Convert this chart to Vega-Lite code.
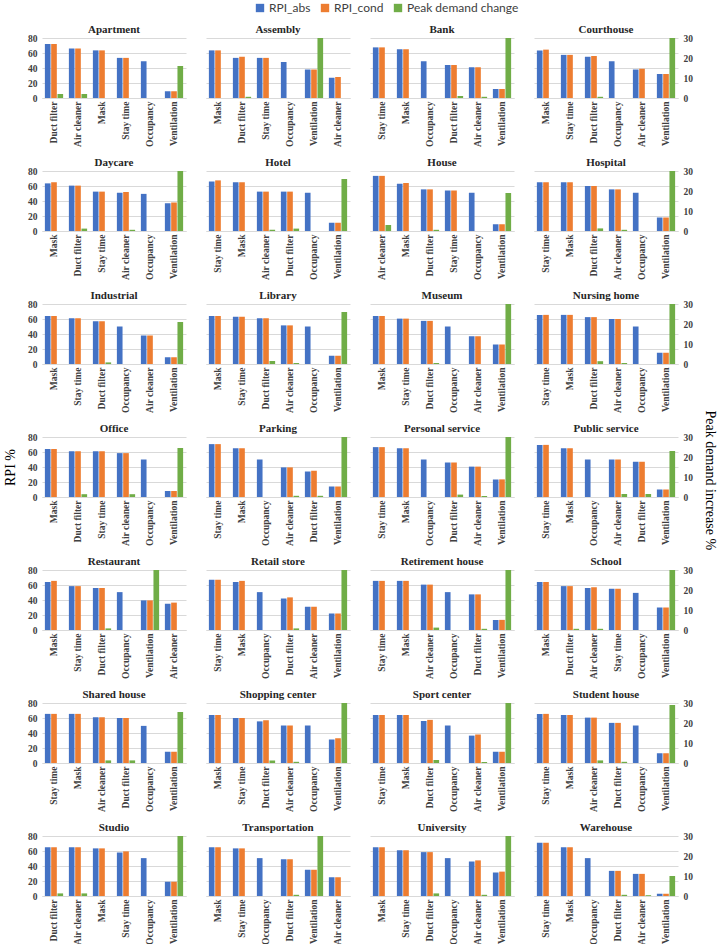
{
"$schema": "https://vega.github.io/schema/vega-lite/v6.json",
"padding": {"left": 3, "top": 2, "right": 2, "bottom": 0},
"background": "white",
"bounds": "flush",
"columns": 4,
"spacing": {"row": 73, "column": 20},
"data": {"values": [
{"b":"Apartment","c":"Duct filter","s":"RPI_abs","v":72},{"b":"Apartment","c":"Duct filter","s":"RPI_cond","v":72},{"b":"Apartment","c":"Duct filter","s":"Peak demand change","v":2},
{"b":"Apartment","c":"Air cleaner","s":"RPI_abs","v":66},{"b":"Apartment","c":"Air cleaner","s":"RPI_cond","v":66},{"b":"Apartment","c":"Air cleaner","s":"Peak demand change","v":2},
{"b":"Apartment","c":"Mask","s":"RPI_abs","v":63.5},{"b":"Apartment","c":"Mask","s":"RPI_cond","v":63.5},
{"b":"Apartment","c":"Stay time","s":"RPI_abs","v":53.5},{"b":"Apartment","c":"Stay time","s":"RPI_cond","v":53.5},
{"b":"Apartment","c":"Occupancy","s":"RPI_abs","v":49},
{"b":"Apartment","c":"Ventilation","s":"RPI_abs","v":9},{"b":"Apartment","c":"Ventilation","s":"RPI_cond","v":9},{"b":"Apartment","c":"Ventilation","s":"Peak demand change","v":16},

{"b":"Assembly","c":"Mask","s":"RPI_abs","v":63.5},{"b":"Assembly","c":"Mask","s":"RPI_cond","v":63.5},
{"b":"Assembly","c":"Duct filter","s":"RPI_abs","v":53.5},{"b":"Assembly","c":"Duct filter","s":"RPI_cond","v":55},{"b":"Assembly","c":"Duct filter","s":"Peak demand change","v":0.6},
{"b":"Assembly","c":"Stay time","s":"RPI_abs","v":53.5},{"b":"Assembly","c":"Stay time","s":"RPI_cond","v":53.5},
{"b":"Assembly","c":"Occupancy","s":"RPI_abs","v":48},
{"b":"Assembly","c":"Ventilation","s":"RPI_abs","v":38},{"b":"Assembly","c":"Ventilation","s":"RPI_cond","v":38},{"b":"Assembly","c":"Ventilation","s":"Peak demand change","v":30},
{"b":"Assembly","c":"Air cleaner","s":"RPI_abs","v":27},{"b":"Assembly","c":"Air cleaner","s":"RPI_cond","v":28},

{"b":"Bank","c":"Stay time","s":"RPI_abs","v":67.5},{"b":"Bank","c":"Stay time","s":"RPI_cond","v":67.5},
{"b":"Bank","c":"Mask","s":"RPI_abs","v":65},{"b":"Bank","c":"Mask","s":"RPI_cond","v":65},
{"b":"Bank","c":"Occupancy","s":"RPI_abs","v":49},
{"b":"Bank","c":"Duct filter","s":"RPI_abs","v":44},{"b":"Bank","c":"Duct filter","s":"RPI_cond","v":44},{"b":"Bank","c":"Duct filter","s":"Peak demand change","v":1},
{"b":"Bank","c":"Air cleaner","s":"RPI_abs","v":41},{"b":"Bank","c":"Air cleaner","s":"RPI_cond","v":41},{"b":"Bank","c":"Air cleaner","s":"Peak demand change","v":0.6},
{"b":"Bank","c":"Ventilation","s":"RPI_abs","v":12},{"b":"Bank","c":"Ventilation","s":"RPI_cond","v":12},{"b":"Bank","c":"Ventilation","s":"Peak demand change","v":30},

{"b":"Courthouse","c":"Mask","s":"RPI_abs","v":63.5},{"b":"Courthouse","c":"Mask","s":"RPI_cond","v":64.5},
{"b":"Courthouse","c":"Stay time","s":"RPI_abs","v":57.5},{"b":"Courthouse","c":"Stay time","s":"RPI_cond","v":57.5},
{"b":"Courthouse","c":"Duct filter","s":"RPI_abs","v":55},{"b":"Courthouse","c":"Duct filter","s":"RPI_cond","v":56},{"b":"Courthouse","c":"Duct filter","s":"Peak demand change","v":0.6},
{"b":"Courthouse","c":"Occupancy","s":"RPI_abs","v":49},
{"b":"Courthouse","c":"Air cleaner","s":"RPI_abs","v":38},{"b":"Courthouse","c":"Air cleaner","s":"RPI_cond","v":39},
{"b":"Courthouse","c":"Ventilation","s":"RPI_abs","v":32},{"b":"Courthouse","c":"Ventilation","s":"RPI_cond","v":32},{"b":"Courthouse","c":"Ventilation","s":"Peak demand change","v":30},

{"b":"Daycare","c":"Mask","s":"RPI_abs","v":63.5},{"b":"Daycare","c":"Mask","s":"RPI_cond","v":65},
{"b":"Daycare","c":"Duct filter","s":"RPI_abs","v":60.5},{"b":"Daycare","c":"Duct filter","s":"RPI_cond","v":60.5},{"b":"Daycare","c":"Duct filter","s":"Peak demand change","v":1.2},
{"b":"Daycare","c":"Stay time","s":"RPI_abs","v":52.5},{"b":"Daycare","c":"Stay time","s":"RPI_cond","v":52.5},
{"b":"Daycare","c":"Air cleaner","s":"RPI_abs","v":51},{"b":"Daycare","c":"Air cleaner","s":"RPI_cond","v":52},{"b":"Daycare","c":"Air cleaner","s":"Peak demand change","v":0.6},
{"b":"Daycare","c":"Occupancy","s":"RPI_abs","v":49.5},
{"b":"Daycare","c":"Ventilation","s":"RPI_abs","v":37},{"b":"Daycare","c":"Ventilation","s":"RPI_cond","v":38},{"b":"Daycare","c":"Ventilation","s":"Peak demand change","v":30},

{"b":"Hotel","c":"Stay time","s":"RPI_abs","v":66},{"b":"Hotel","c":"Stay time","s":"RPI_cond","v":67.5},
{"b":"Hotel","c":"Mask","s":"RPI_abs","v":65},{"b":"Hotel","c":"Mask","s":"RPI_cond","v":65},
{"b":"Hotel","c":"Air cleaner","s":"RPI_abs","v":52.5},{"b":"Hotel","c":"Air cleaner","s":"RPI_cond","v":52.5},{"b":"Hotel","c":"Air cleaner","s":"Peak demand change","v":0.6},
{"b":"Hotel","c":"Duct filter","s":"RPI_abs","v":52.5},{"b":"Hotel","c":"Duct filter","s":"RPI_cond","v":52.5},{"b":"Hotel","c":"Duct filter","s":"Peak demand change","v":1.2},
{"b":"Hotel","c":"Occupancy","s":"RPI_abs","v":51},
{"b":"Hotel","c":"Ventilation","s":"RPI_abs","v":11},{"b":"Hotel","c":"Ventilation","s":"RPI_cond","v":11},{"b":"Hotel","c":"Ventilation","s":"Peak demand change","v":26},

{"b":"House","c":"Air cleaner","s":"RPI_abs","v":73.5},{"b":"House","c":"Air cleaner","s":"RPI_cond","v":73.5},{"b":"House","c":"Air cleaner","s":"Peak demand change","v":3},
{"b":"House","c":"Mask","s":"RPI_abs","v":63},{"b":"House","c":"Mask","s":"RPI_cond","v":64},
{"b":"House","c":"Duct filter","s":"RPI_abs","v":55.5},{"b":"House","c":"Duct filter","s":"RPI_cond","v":55.5},{"b":"House","c":"Duct filter","s":"Peak demand change","v":0.6},
{"b":"House","c":"Stay time","s":"RPI_abs","v":54},{"b":"House","c":"Stay time","s":"RPI_cond","v":54},
{"b":"House","c":"Occupancy","s":"RPI_abs","v":51},
{"b":"House","c":"Ventilation","s":"RPI_abs","v":9},{"b":"House","c":"Ventilation","s":"RPI_cond","v":9},{"b":"House","c":"Ventilation","s":"Peak demand change","v":19},

{"b":"Hospital","c":"Stay time","s":"RPI_abs","v":65},{"b":"Hospital","c":"Stay time","s":"RPI_cond","v":65},
{"b":"Hospital","c":"Mask","s":"RPI_abs","v":65},{"b":"Hospital","c":"Mask","s":"RPI_cond","v":65},
{"b":"Hospital","c":"Duct filter","s":"RPI_abs","v":60},{"b":"Hospital","c":"Duct filter","s":"RPI_cond","v":60},{"b":"Hospital","c":"Duct filter","s":"Peak demand change","v":1.3},
{"b":"Hospital","c":"Air cleaner","s":"RPI_abs","v":55.5},{"b":"Hospital","c":"Air cleaner","s":"RPI_cond","v":55.5},{"b":"Hospital","c":"Air cleaner","s":"Peak demand change","v":0.6},
{"b":"Hospital","c":"Occupancy","s":"RPI_abs","v":51},
{"b":"Hospital","c":"Ventilation","s":"RPI_abs","v":18},{"b":"Hospital","c":"Ventilation","s":"RPI_cond","v":18},{"b":"Hospital","c":"Ventilation","s":"Peak demand change","v":30},

{"b":"Industrial","c":"Mask","s":"RPI_abs","v":64},{"b":"Industrial","c":"Mask","s":"RPI_cond","v":64},
{"b":"Industrial","c":"Stay time","s":"RPI_abs","v":61},{"b":"Industrial","c":"Stay time","s":"RPI_cond","v":61},
{"b":"Industrial","c":"Duct filter","s":"RPI_abs","v":57},{"b":"Industrial","c":"Duct filter","s":"RPI_cond","v":57},{"b":"Industrial","c":"Duct filter","s":"Peak demand change","v":0.8},
{"b":"Industrial","c":"Occupancy","s":"RPI_abs","v":50},
{"b":"Industrial","c":"Air cleaner","s":"RPI_abs","v":38},{"b":"Industrial","c":"Air cleaner","s":"RPI_cond","v":38},
{"b":"Industrial","c":"Ventilation","s":"RPI_abs","v":9},{"b":"Industrial","c":"Ventilation","s":"RPI_cond","v":9},{"b":"Industrial","c":"Ventilation","s":"Peak demand change","v":21},

{"b":"Library","c":"Mask","s":"RPI_abs","v":64},{"b":"Library","c":"Mask","s":"RPI_cond","v":64},
{"b":"Library","c":"Stay time","s":"RPI_abs","v":63},{"b":"Library","c":"Stay time","s":"RPI_cond","v":63},
{"b":"Library","c":"Duct filter","s":"RPI_abs","v":61},{"b":"Library","c":"Duct filter","s":"RPI_cond","v":61},{"b":"Library","c":"Duct filter","s":"Peak demand change","v":1.5},
{"b":"Library","c":"Air cleaner","s":"RPI_abs","v":51.5},{"b":"Library","c":"Air cleaner","s":"RPI_cond","v":51.5},{"b":"Library","c":"Air cleaner","s":"Peak demand change","v":0.5},
{"b":"Library","c":"Occupancy","s":"RPI_abs","v":50},
{"b":"Library","c":"Ventilation","s":"RPI_abs","v":11},{"b":"Library","c":"Ventilation","s":"RPI_cond","v":11},{"b":"Library","c":"Ventilation","s":"Peak demand change","v":26},

{"b":"Museum","c":"Mask","s":"RPI_abs","v":64},{"b":"Museum","c":"Mask","s":"RPI_cond","v":64},
{"b":"Museum","c":"Stay time","s":"RPI_abs","v":60.5},{"b":"Museum","c":"Stay time","s":"RPI_cond","v":60.5},
{"b":"Museum","c":"Duct filter","s":"RPI_abs","v":57.5},{"b":"Museum","c":"Duct filter","s":"RPI_cond","v":57.5},{"b":"Museum","c":"Duct filter","s":"Peak demand change","v":0.5},
{"b":"Museum","c":"Occupancy","s":"RPI_abs","v":50},
{"b":"Museum","c":"Air cleaner","s":"RPI_abs","v":37},{"b":"Museum","c":"Air cleaner","s":"RPI_cond","v":37},
{"b":"Museum","c":"Ventilation","s":"RPI_abs","v":26},{"b":"Museum","c":"Ventilation","s":"RPI_cond","v":26},{"b":"Museum","c":"Ventilation","s":"Peak demand change","v":30},

{"b":"Nursing home","c":"Stay time","s":"RPI_abs","v":65.5},{"b":"Nursing home","c":"Stay time","s":"RPI_cond","v":65.5},
{"b":"Nursing home","c":"Mask","s":"RPI_abs","v":65.5},{"b":"Nursing home","c":"Mask","s":"RPI_cond","v":65.5},
{"b":"Nursing home","c":"Duct filter","s":"RPI_abs","v":62.5},{"b":"Nursing home","c":"Duct filter","s":"RPI_cond","v":62.5},{"b":"Nursing home","c":"Duct filter","s":"Peak demand change","v":1.4},
{"b":"Nursing home","c":"Air cleaner","s":"RPI_abs","v":60},{"b":"Nursing home","c":"Air cleaner","s":"RPI_cond","v":60},{"b":"Nursing home","c":"Air cleaner","s":"Peak demand change","v":0.5},
{"b":"Nursing home","c":"Occupancy","s":"RPI_abs","v":50},
{"b":"Nursing home","c":"Ventilation","s":"RPI_abs","v":15},{"b":"Nursing home","c":"Ventilation","s":"RPI_cond","v":15},{"b":"Nursing home","c":"Ventilation","s":"Peak demand change","v":30},

{"b":"Office","c":"Mask","s":"RPI_abs","v":64},{"b":"Office","c":"Mask","s":"RPI_cond","v":64},
{"b":"Office","c":"Duct filter","s":"RPI_abs","v":61},{"b":"Office","c":"Duct filter","s":"RPI_cond","v":61},{"b":"Office","c":"Duct filter","s":"Peak demand change","v":1.4},
{"b":"Office","c":"Stay time","s":"RPI_abs","v":61},{"b":"Office","c":"Stay time","s":"RPI_cond","v":61},
{"b":"Office","c":"Air cleaner","s":"RPI_abs","v":58.5},{"b":"Office","c":"Air cleaner","s":"RPI_cond","v":58.5},{"b":"Office","c":"Air cleaner","s":"Peak demand change","v":1.4},
{"b":"Office","c":"Occupancy","s":"RPI_abs","v":50},
{"b":"Office","c":"Ventilation","s":"RPI_abs","v":8},{"b":"Office","c":"Ventilation","s":"RPI_cond","v":8},{"b":"Office","c":"Ventilation","s":"Peak demand change","v":24.5},

{"b":"Parking","c":"Stay time","s":"RPI_abs","v":70.5},{"b":"Parking","c":"Stay time","s":"RPI_cond","v":70.5},
{"b":"Parking","c":"Mask","s":"RPI_abs","v":65},{"b":"Parking","c":"Mask","s":"RPI_cond","v":65},
{"b":"Parking","c":"Occupancy","s":"RPI_abs","v":50},
{"b":"Parking","c":"Air cleaner","s":"RPI_abs","v":39.5},{"b":"Parking","c":"Air cleaner","s":"RPI_cond","v":39.5},{"b":"Parking","c":"Air cleaner","s":"Peak demand change","v":0.6},
{"b":"Parking","c":"Duct filter","s":"RPI_abs","v":34},{"b":"Parking","c":"Duct filter","s":"RPI_cond","v":35},{"b":"Parking","c":"Duct filter","s":"Peak demand change","v":0.6},
{"b":"Parking","c":"Ventilation","s":"RPI_abs","v":14},{"b":"Parking","c":"Ventilation","s":"RPI_cond","v":14},{"b":"Parking","c":"Ventilation","s":"Peak demand change","v":30},

{"b":"Personal service","c":"Stay time","s":"RPI_abs","v":66.5},{"b":"Personal service","c":"Stay time","s":"RPI_cond","v":66.5},
{"b":"Personal service","c":"Mask","s":"RPI_abs","v":65},{"b":"Personal service","c":"Mask","s":"RPI_cond","v":65},
{"b":"Personal service","c":"Occupancy","s":"RPI_abs","v":50},
{"b":"Personal service","c":"Duct filter","s":"RPI_abs","v":46},{"b":"Personal service","c":"Duct filter","s":"RPI_cond","v":46},{"b":"Personal service","c":"Duct filter","s":"Peak demand change","v":1.2},
{"b":"Personal service","c":"Air cleaner","s":"RPI_abs","v":40.5},{"b":"Personal service","c":"Air cleaner","s":"RPI_cond","v":40.5},{"b":"Personal service","c":"Air cleaner","s":"Peak demand change","v":0.5},
{"b":"Personal service","c":"Ventilation","s":"RPI_abs","v":23.5},{"b":"Personal service","c":"Ventilation","s":"RPI_cond","v":23.5},{"b":"Personal service","c":"Ventilation","s":"Peak demand change","v":30},

{"b":"Public service","c":"Stay time","s":"RPI_abs","v":69.5},{"b":"Public service","c":"Stay time","s":"RPI_cond","v":69.5},
{"b":"Public service","c":"Mask","s":"RPI_abs","v":65},{"b":"Public service","c":"Mask","s":"RPI_cond","v":65},
{"b":"Public service","c":"Occupancy","s":"RPI_abs","v":50},
{"b":"Public service","c":"Air cleaner","s":"RPI_abs","v":50},{"b":"Public service","c":"Air cleaner","s":"RPI_cond","v":50},{"b":"Public service","c":"Air cleaner","s":"Peak demand change","v":1.5},
{"b":"Public service","c":"Duct filter","s":"RPI_abs","v":47},{"b":"Public service","c":"Duct filter","s":"RPI_cond","v":47},{"b":"Public service","c":"Duct filter","s":"Peak demand change","v":1.5},
{"b":"Public service","c":"Ventilation","s":"RPI_abs","v":10},{"b":"Public service","c":"Ventilation","s":"RPI_cond","v":10},{"b":"Public service","c":"Ventilation","s":"Peak demand change","v":23},

{"b":"Restaurant","c":"Mask","s":"RPI_abs","v":64},{"b":"Restaurant","c":"Mask","s":"RPI_cond","v":65.5},
{"b":"Restaurant","c":"Stay time","s":"RPI_abs","v":58.5},{"b":"Restaurant","c":"Stay time","s":"RPI_cond","v":58.5},
{"b":"Restaurant","c":"Duct filter","s":"RPI_abs","v":56},{"b":"Restaurant","c":"Duct filter","s":"RPI_cond","v":56},{"b":"Restaurant","c":"Duct filter","s":"Peak demand change","v":0.8},
{"b":"Restaurant","c":"Occupancy","s":"RPI_abs","v":50.5},
{"b":"Restaurant","c":"Ventilation","s":"RPI_abs","v":39.5},{"b":"Restaurant","c":"Ventilation","s":"RPI_cond","v":39.5},{"b":"Restaurant","c":"Ventilation","s":"Peak demand change","v":30},
{"b":"Restaurant","c":"Air cleaner","s":"RPI_abs","v":35},{"b":"Restaurant","c":"Air cleaner","s":"RPI_cond","v":36.5},

{"b":"Retail store","c":"Stay time","s":"RPI_abs","v":67},{"b":"Retail store","c":"Stay time","s":"RPI_cond","v":67},
{"b":"Retail store","c":"Mask","s":"RPI_abs","v":64},{"b":"Retail store","c":"Mask","s":"RPI_cond","v":65.5},
{"b":"Retail store","c":"Occupancy","s":"RPI_abs","v":50.5},
{"b":"Retail store","c":"Duct filter","s":"RPI_abs","v":42},{"b":"Retail store","c":"Duct filter","s":"RPI_cond","v":43.5},{"b":"Retail store","c":"Duct filter","s":"Peak demand change","v":0.8},
{"b":"Retail store","c":"Air cleaner","s":"RPI_abs","v":31},{"b":"Retail store","c":"Air cleaner","s":"RPI_cond","v":31},
{"b":"Retail store","c":"Ventilation","s":"RPI_abs","v":22},{"b":"Retail store","c":"Ventilation","s":"RPI_cond","v":22},{"b":"Retail store","c":"Ventilation","s":"Peak demand change","v":30},

{"b":"Retirement house","c":"Stay time","s":"RPI_abs","v":65.5},{"b":"Retirement house","c":"Stay time","s":"RPI_cond","v":65.5},
{"b":"Retirement house","c":"Mask","s":"RPI_abs","v":65.5},{"b":"Retirement house","c":"Mask","s":"RPI_cond","v":65.5},
{"b":"Retirement house","c":"Air cleaner","s":"RPI_abs","v":60.5},{"b":"Retirement house","c":"Air cleaner","s":"RPI_cond","v":60.5},{"b":"Retirement house","c":"Air cleaner","s":"Peak demand change","v":1.2},
{"b":"Retirement house","c":"Occupancy","s":"RPI_abs","v":50.5},
{"b":"Retirement house","c":"Duct filter","s":"RPI_abs","v":47.5},{"b":"Retirement house","c":"Duct filter","s":"RPI_cond","v":47.5},{"b":"Retirement house","c":"Duct filter","s":"Peak demand change","v":0.6},
{"b":"Retirement house","c":"Ventilation","s":"RPI_abs","v":13.5},{"b":"Retirement house","c":"Ventilation","s":"RPI_cond","v":13.5},{"b":"Retirement house","c":"Ventilation","s":"Peak demand change","v":30},

{"b":"School","c":"Mask","s":"RPI_abs","v":64},{"b":"School","c":"Mask","s":"RPI_cond","v":64},
{"b":"School","c":"Duct filter","s":"RPI_abs","v":58.5},{"b":"School","c":"Duct filter","s":"RPI_cond","v":58.5},{"b":"School","c":"Duct filter","s":"Peak demand change","v":0.6},
{"b":"School","c":"Air cleaner","s":"RPI_abs","v":56},{"b":"School","c":"Air cleaner","s":"RPI_cond","v":57},{"b":"School","c":"Air cleaner","s":"Peak demand change","v":0.6},
{"b":"School","c":"Stay time","s":"RPI_abs","v":55},{"b":"School","c":"Stay time","s":"RPI_cond","v":55},
{"b":"School","c":"Occupancy","s":"RPI_abs","v":49.5},
{"b":"School","c":"Ventilation","s":"RPI_abs","v":30},{"b":"School","c":"Ventilation","s":"RPI_cond","v":30},{"b":"School","c":"Ventilation","s":"Peak demand change","v":30},

{"b":"Shared house","c":"Stay time","s":"RPI_abs","v":65.5},{"b":"Shared house","c":"Stay time","s":"RPI_cond","v":65.5},
{"b":"Shared house","c":"Mask","s":"RPI_abs","v":65.5},{"b":"Shared house","c":"Mask","s":"RPI_cond","v":65.5},
{"b":"Shared house","c":"Air cleaner","s":"RPI_abs","v":61},{"b":"Shared house","c":"Air cleaner","s":"RPI_cond","v":61},{"b":"Shared house","c":"Air cleaner","s":"Peak demand change","v":1.3},
{"b":"Shared house","c":"Duct filter","s":"RPI_abs","v":60},{"b":"Shared house","c":"Duct filter","s":"RPI_cond","v":60},{"b":"Shared house","c":"Duct filter","s":"Peak demand change","v":1.3},
{"b":"Shared house","c":"Occupancy","s":"RPI_abs","v":49.5},
{"b":"Shared house","c":"Ventilation","s":"RPI_abs","v":15},{"b":"Shared house","c":"Ventilation","s":"RPI_cond","v":15},{"b":"Shared house","c":"Ventilation","s":"Peak demand change","v":25.5},

{"b":"Shopping center","c":"Mask","s":"RPI_abs","v":64},{"b":"Shopping center","c":"Mask","s":"RPI_cond","v":64},
{"b":"Shopping center","c":"Stay time","s":"RPI_abs","v":60},{"b":"Shopping center","c":"Stay time","s":"RPI_cond","v":60},
{"b":"Shopping center","c":"Duct filter","s":"RPI_abs","v":55.5},{"b":"Shopping center","c":"Duct filter","s":"RPI_cond","v":57},{"b":"Shopping center","c":"Duct filter","s":"Peak demand change","v":1.3},
{"b":"Shopping center","c":"Air cleaner","s":"RPI_abs","v":50},{"b":"Shopping center","c":"Air cleaner","s":"RPI_cond","v":50},{"b":"Shopping center","c":"Air cleaner","s":"Peak demand change","v":0.6},
{"b":"Shopping center","c":"Occupancy","s":"RPI_abs","v":50},
{"b":"Shopping center","c":"Ventilation","s":"RPI_abs","v":31.5},{"b":"Shopping center","c":"Ventilation","s":"RPI_cond","v":33},{"b":"Shopping center","c":"Ventilation","s":"Peak demand change","v":30},

{"b":"Sport center","c":"Stay time","s":"RPI_abs","v":64},{"b":"Sport center","c":"Stay time","s":"RPI_cond","v":64},
{"b":"Sport center","c":"Mask","s":"RPI_abs","v":64},{"b":"Sport center","c":"Mask","s":"RPI_cond","v":64},
{"b":"Sport center","c":"Duct filter","s":"RPI_abs","v":56},{"b":"Sport center","c":"Duct filter","s":"RPI_cond","v":57.5},{"b":"Sport center","c":"Duct filter","s":"Peak demand change","v":1.5},
{"b":"Sport center","c":"Occupancy","s":"RPI_abs","v":50},
{"b":"Sport center","c":"Air cleaner","s":"RPI_abs","v":36.5},{"b":"Sport center","c":"Air cleaner","s":"RPI_cond","v":38},{"b":"Sport center","c":"Air cleaner","s":"Peak demand change","v":0.5},
{"b":"Sport center","c":"Ventilation","s":"RPI_abs","v":15},{"b":"Sport center","c":"Ventilation","s":"RPI_cond","v":15},{"b":"Sport center","c":"Ventilation","s":"Peak demand change","v":30},

{"b":"Student house","c":"Stay time","s":"RPI_abs","v":65.5},{"b":"Student house","c":"Stay time","s":"RPI_cond","v":65.5},
{"b":"Student house","c":"Mask","s":"RPI_abs","v":64},{"b":"Student house","c":"Mask","s":"RPI_cond","v":64},
{"b":"Student house","c":"Air cleaner","s":"RPI_abs","v":60.5},{"b":"Student house","c":"Air cleaner","s":"RPI_cond","v":60.5},{"b":"Student house","c":"Air cleaner","s":"Peak demand change","v":1.3},
{"b":"Student house","c":"Duct filter","s":"RPI_abs","v":53.5},{"b":"Student house","c":"Duct filter","s":"RPI_cond","v":53.5},{"b":"Student house","c":"Duct filter","s":"Peak demand change","v":0.6},
{"b":"Student house","c":"Occupancy","s":"RPI_abs","v":50},
{"b":"Student house","c":"Ventilation","s":"RPI_abs","v":13},{"b":"Student house","c":"Ventilation","s":"RPI_cond","v":13},{"b":"Student house","c":"Ventilation","s":"Peak demand change","v":29},

{"b":"Studio","c":"Duct filter","s":"RPI_abs","v":65},{"b":"Studio","c":"Duct filter","s":"RPI_cond","v":65},{"b":"Studio","c":"Duct filter","s":"Peak demand change","v":1.3},
{"b":"Studio","c":"Air cleaner","s":"RPI_abs","v":65},{"b":"Studio","c":"Air cleaner","s":"RPI_cond","v":65},{"b":"Studio","c":"Air cleaner","s":"Peak demand change","v":1.3},
{"b":"Studio","c":"Mask","s":"RPI_abs","v":63.5},{"b":"Studio","c":"Mask","s":"RPI_cond","v":63.5},
{"b":"Studio","c":"Stay time","s":"RPI_abs","v":58},{"b":"Studio","c":"Stay time","s":"RPI_cond","v":59.5},
{"b":"Studio","c":"Occupancy","s":"RPI_abs","v":50.5},
{"b":"Studio","c":"Ventilation","s":"RPI_abs","v":19},{"b":"Studio","c":"Ventilation","s":"RPI_cond","v":19},{"b":"Studio","c":"Ventilation","s":"Peak demand change","v":30},

{"b":"Transportation","c":"Mask","s":"RPI_abs","v":65},{"b":"Transportation","c":"Mask","s":"RPI_cond","v":65},
{"b":"Transportation","c":"Stay time","s":"RPI_abs","v":63.5},{"b":"Transportation","c":"Stay time","s":"RPI_cond","v":63.5},
{"b":"Transportation","c":"Occupancy","s":"RPI_abs","v":50.5},
{"b":"Transportation","c":"Duct filter","s":"RPI_abs","v":49},{"b":"Transportation","c":"Duct filter","s":"RPI_cond","v":49},{"b":"Transportation","c":"Duct filter","s":"Peak demand change","v":0.6},
{"b":"Transportation","c":"Ventilation","s":"RPI_abs","v":35},{"b":"Transportation","c":"Ventilation","s":"RPI_cond","v":35},{"b":"Transportation","c":"Ventilation","s":"Peak demand change","v":30},
{"b":"Transportation","c":"Air cleaner","s":"RPI_abs","v":25},{"b":"Transportation","c":"Air cleaner","s":"RPI_cond","v":25},

{"b":"University","c":"Mask","s":"RPI_abs","v":65},{"b":"University","c":"Mask","s":"RPI_cond","v":65},
{"b":"University","c":"Stay time","s":"RPI_abs","v":61},{"b":"University","c":"Stay time","s":"RPI_cond","v":61},
{"b":"University","c":"Duct filter","s":"RPI_abs","v":58.5},{"b":"University","c":"Duct filter","s":"RPI_cond","v":58.5},{"b":"University","c":"Duct filter","s":"Peak demand change","v":1.3},
{"b":"University","c":"Occupancy","s":"RPI_abs","v":50.5},
{"b":"University","c":"Air cleaner","s":"RPI_abs","v":46},{"b":"University","c":"Air cleaner","s":"RPI_cond","v":47.5},{"b":"University","c":"Air cleaner","s":"Peak demand change","v":0.6},
{"b":"University","c":"Ventilation","s":"RPI_abs","v":31.5},{"b":"University","c":"Ventilation","s":"RPI_cond","v":32.5},{"b":"University","c":"Ventilation","s":"Peak demand change","v":30},

{"b":"Warehouse","c":"Stay time","s":"RPI_abs","v":71},{"b":"Warehouse","c":"Stay time","s":"RPI_cond","v":71},
{"b":"Warehouse","c":"Mask","s":"RPI_abs","v":65},{"b":"Warehouse","c":"Mask","s":"RPI_cond","v":65},
{"b":"Warehouse","c":"Occupancy","s":"RPI_abs","v":50.5},
{"b":"Warehouse","c":"Duct filter","s":"RPI_abs","v":33.5},{"b":"Warehouse","c":"Duct filter","s":"RPI_cond","v":33.5},{"b":"Warehouse","c":"Duct filter","s":"Peak demand change","v":0.6},
{"b":"Warehouse","c":"Air cleaner","s":"RPI_abs","v":29.5},{"b":"Warehouse","c":"Air cleaner","s":"RPI_cond","v":29.5},{"b":"Warehouse","c":"Air cleaner","s":"Peak demand change","v":0.4},
{"b":"Warehouse","c":"Ventilation","s":"RPI_abs","v":3},{"b":"Warehouse","c":"Ventilation","s":"RPI_cond","v":3},{"b":"Warehouse","c":"Ventilation","s":"Peak demand change","v":10}
]},
"concat": [
{"title":{"text":"Apartment","offset":-2},"width":144,"height":60,"transform":[{"filter":{"field":"b","equal":"Apartment"}}],
 "encoding":{"x":{"field":"c","type":"nominal","title":null,"scale":{"domain":["Duct filter","Air cleaner","Mask","Stay time","Occupancy","Ventilation"],"paddingInner":0.24,"paddingOuter":0.12}},"xOffset":{"field":"s","type":"nominal","scale":{"domain":["RPI_abs","RPI_cond","Peak demand change"],"paddingInner":0.1}},"color":{"field":"s","type":"nominal","title":null,"scale":{"domain":["RPI_abs","RPI_cond","Peak demand change"],"range":["#4472C4","#ED7D31","#70AD47"]}}},
 "layer":[{"transform":[{"filter":{"field":"s","oneOf":["RPI_abs","RPI_cond"]}}],"mark":"bar","encoding":{"y":{"field":"v","type":"quantitative","title":null,"scale":{"domain":[0,80]},"axis":{"values":[0,20,40,60,80]}}}},
  {"transform":[{"filter":{"field":"s","equal":"Peak demand change"}}],"mark":{"type":"bar","clip":true},"encoding":{"y":{"field":"v","type":"quantitative","title":null,"scale":{"domain":[0,30]},"axis":null}}}],
 "resolve":{"scale":{"y":"independent"}}},
{"title":{"text":"Assembly","offset":3},"width":144,"height":60,"transform":[{"filter":{"field":"b","equal":"Assembly"}}],
 "encoding":{"x":{"field":"c","type":"nominal","title":null,"scale":{"domain":["Mask","Duct filter","Stay time","Occupancy","Ventilation","Air cleaner"],"paddingInner":0.24,"paddingOuter":0.12}},"xOffset":{"field":"s","type":"nominal","scale":{"domain":["RPI_abs","RPI_cond","Peak demand change"],"paddingInner":0.1}},"color":{"field":"s","type":"nominal","title":null,"scale":{"domain":["RPI_abs","RPI_cond","Peak demand change"],"range":["#4472C4","#ED7D31","#70AD47"]}}},
 "layer":[{"transform":[{"filter":{"field":"s","oneOf":["RPI_abs","RPI_cond"]}}],"mark":"bar","encoding":{"y":{"field":"v","type":"quantitative","title":null,"scale":{"domain":[0,80]},"axis":{"values":[0,20,40,60,80],"labels":false}}}},
  {"transform":[{"filter":{"field":"s","equal":"Peak demand change"}}],"mark":{"type":"bar","clip":true},"encoding":{"y":{"field":"v","type":"quantitative","title":null,"scale":{"domain":[0,30]},"axis":null}}}],
 "resolve":{"scale":{"y":"independent"}}},
{"title":{"text":"Bank","offset":3},"width":144,"height":60,"transform":[{"filter":{"field":"b","equal":"Bank"}}],
 "encoding":{"x":{"field":"c","type":"nominal","title":null,"scale":{"domain":["Stay time","Mask","Occupancy","Duct filter","Air cleaner","Ventilation"],"paddingInner":0.24,"paddingOuter":0.12}},"xOffset":{"field":"s","type":"nominal","scale":{"domain":["RPI_abs","RPI_cond","Peak demand change"],"paddingInner":0.1}},"color":{"field":"s","type":"nominal","title":null,"scale":{"domain":["RPI_abs","RPI_cond","Peak demand change"],"range":["#4472C4","#ED7D31","#70AD47"]}}},
 "layer":[{"transform":[{"filter":{"field":"s","oneOf":["RPI_abs","RPI_cond"]}}],"mark":"bar","encoding":{"y":{"field":"v","type":"quantitative","title":null,"scale":{"domain":[0,80]},"axis":{"values":[0,20,40,60,80],"labels":false}}}},
  {"transform":[{"filter":{"field":"s","equal":"Peak demand change"}}],"mark":{"type":"bar","clip":true},"encoding":{"y":{"field":"v","type":"quantitative","title":null,"scale":{"domain":[0,30]},"axis":null}}}],
 "resolve":{"scale":{"y":"independent"}}},
{"title":{"text":"Courthouse","offset":-2},"width":144,"height":60,"transform":[{"filter":{"field":"b","equal":"Courthouse"}}],
 "encoding":{"x":{"field":"c","type":"nominal","title":null,"scale":{"domain":["Mask","Stay time","Duct filter","Occupancy","Air cleaner","Ventilation"],"paddingInner":0.24,"paddingOuter":0.12}},"xOffset":{"field":"s","type":"nominal","scale":{"domain":["RPI_abs","RPI_cond","Peak demand change"],"paddingInner":0.1}},"color":{"field":"s","type":"nominal","title":null,"scale":{"domain":["RPI_abs","RPI_cond","Peak demand change"],"range":["#4472C4","#ED7D31","#70AD47"]}}},
 "layer":[{"transform":[{"filter":{"field":"s","oneOf":["RPI_abs","RPI_cond"]}}],"mark":"bar","encoding":{"y":{"field":"v","type":"quantitative","title":null,"scale":{"domain":[0,80]},"axis":{"values":[0,20,40,60,80],"labels":false}}}},
  {"transform":[{"filter":{"field":"s","equal":"Peak demand change"}}],"mark":{"type":"bar","clip":true},"encoding":{"y":{"field":"v","type":"quantitative","title":null,"scale":{"domain":[0,30]},"axis":{"orient":"right","values":[0,10,20,30],"grid":false}}}}],
 "resolve":{"scale":{"y":"independent"}}},

{"title":{"text":"Daycare","offset":-2},"width":144,"height":60,"transform":[{"filter":{"field":"b","equal":"Daycare"}}],
 "encoding":{"x":{"field":"c","type":"nominal","title":null,"scale":{"domain":["Mask","Duct filter","Stay time","Air cleaner","Occupancy","Ventilation"],"paddingInner":0.24,"paddingOuter":0.12}},"xOffset":{"field":"s","type":"nominal","scale":{"domain":["RPI_abs","RPI_cond","Peak demand change"],"paddingInner":0.1}},"color":{"field":"s","type":"nominal","title":null,"scale":{"domain":["RPI_abs","RPI_cond","Peak demand change"],"range":["#4472C4","#ED7D31","#70AD47"]}}},
 "layer":[{"transform":[{"filter":{"field":"s","oneOf":["RPI_abs","RPI_cond"]}}],"mark":"bar","encoding":{"y":{"field":"v","type":"quantitative","title":null,"scale":{"domain":[0,80]},"axis":{"values":[0,20,40,60,80]}}}},
  {"transform":[{"filter":{"field":"s","equal":"Peak demand change"}}],"mark":{"type":"bar","clip":true},"encoding":{"y":{"field":"v","type":"quantitative","title":null,"scale":{"domain":[0,30]},"axis":null}}}],
 "resolve":{"scale":{"y":"independent"}}},
{"title":{"text":"Hotel","offset":3},"width":144,"height":60,"transform":[{"filter":{"field":"b","equal":"Hotel"}}],
 "encoding":{"x":{"field":"c","type":"nominal","title":null,"scale":{"domain":["Stay time","Mask","Air cleaner","Duct filter","Occupancy","Ventilation"],"paddingInner":0.24,"paddingOuter":0.12}},"xOffset":{"field":"s","type":"nominal","scale":{"domain":["RPI_abs","RPI_cond","Peak demand change"],"paddingInner":0.1}},"color":{"field":"s","type":"nominal","title":null,"scale":{"domain":["RPI_abs","RPI_cond","Peak demand change"],"range":["#4472C4","#ED7D31","#70AD47"]}}},
 "layer":[{"transform":[{"filter":{"field":"s","oneOf":["RPI_abs","RPI_cond"]}}],"mark":"bar","encoding":{"y":{"field":"v","type":"quantitative","title":null,"scale":{"domain":[0,80]},"axis":{"values":[0,20,40,60,80],"labels":false}}}},
  {"transform":[{"filter":{"field":"s","equal":"Peak demand change"}}],"mark":{"type":"bar","clip":true},"encoding":{"y":{"field":"v","type":"quantitative","title":null,"scale":{"domain":[0,30]},"axis":null}}}],
 "resolve":{"scale":{"y":"independent"}}},
{"title":{"text":"House","offset":3},"width":144,"height":60,"transform":[{"filter":{"field":"b","equal":"House"}}],
 "encoding":{"x":{"field":"c","type":"nominal","title":null,"scale":{"domain":["Air cleaner","Mask","Duct filter","Stay time","Occupancy","Ventilation"],"paddingInner":0.24,"paddingOuter":0.12}},"xOffset":{"field":"s","type":"nominal","scale":{"domain":["RPI_abs","RPI_cond","Peak demand change"],"paddingInner":0.1}},"color":{"field":"s","type":"nominal","title":null,"scale":{"domain":["RPI_abs","RPI_cond","Peak demand change"],"range":["#4472C4","#ED7D31","#70AD47"]}}},
 "layer":[{"transform":[{"filter":{"field":"s","oneOf":["RPI_abs","RPI_cond"]}}],"mark":"bar","encoding":{"y":{"field":"v","type":"quantitative","title":null,"scale":{"domain":[0,80]},"axis":{"values":[0,20,40,60,80],"labels":false}}}},
  {"transform":[{"filter":{"field":"s","equal":"Peak demand change"}}],"mark":{"type":"bar","clip":true},"encoding":{"y":{"field":"v","type":"quantitative","title":null,"scale":{"domain":[0,30]},"axis":null}}}],
 "resolve":{"scale":{"y":"independent"}}},
{"title":{"text":"Hospital","offset":-2},"width":144,"height":60,"transform":[{"filter":{"field":"b","equal":"Hospital"}}],
 "encoding":{"x":{"field":"c","type":"nominal","title":null,"scale":{"domain":["Stay time","Mask","Duct filter","Air cleaner","Occupancy","Ventilation"],"paddingInner":0.24,"paddingOuter":0.12}},"xOffset":{"field":"s","type":"nominal","scale":{"domain":["RPI_abs","RPI_cond","Peak demand change"],"paddingInner":0.1}},"color":{"field":"s","type":"nominal","title":null,"scale":{"domain":["RPI_abs","RPI_cond","Peak demand change"],"range":["#4472C4","#ED7D31","#70AD47"]}}},
 "layer":[{"transform":[{"filter":{"field":"s","oneOf":["RPI_abs","RPI_cond"]}}],"mark":"bar","encoding":{"y":{"field":"v","type":"quantitative","title":null,"scale":{"domain":[0,80]},"axis":{"values":[0,20,40,60,80],"labels":false}}}},
  {"transform":[{"filter":{"field":"s","equal":"Peak demand change"}}],"mark":{"type":"bar","clip":true},"encoding":{"y":{"field":"v","type":"quantitative","title":null,"scale":{"domain":[0,30]},"axis":{"orient":"right","values":[0,10,20,30],"grid":false}}}}],
 "resolve":{"scale":{"y":"independent"}}},

{"title":{"text":"Industrial","offset":-2},"width":144,"height":60,"transform":[{"filter":{"field":"b","equal":"Industrial"}}],
 "encoding":{"x":{"field":"c","type":"nominal","title":null,"scale":{"domain":["Mask","Stay time","Duct filter","Occupancy","Air cleaner","Ventilation"],"paddingInner":0.24,"paddingOuter":0.12}},"xOffset":{"field":"s","type":"nominal","scale":{"domain":["RPI_abs","RPI_cond","Peak demand change"],"paddingInner":0.1}},"color":{"field":"s","type":"nominal","title":null,"scale":{"domain":["RPI_abs","RPI_cond","Peak demand change"],"range":["#4472C4","#ED7D31","#70AD47"]}}},
 "layer":[{"transform":[{"filter":{"field":"s","oneOf":["RPI_abs","RPI_cond"]}}],"mark":"bar","encoding":{"y":{"field":"v","type":"quantitative","title":null,"scale":{"domain":[0,80]},"axis":{"values":[0,20,40,60,80]}}}},
  {"transform":[{"filter":{"field":"s","equal":"Peak demand change"}}],"mark":{"type":"bar","clip":true},"encoding":{"y":{"field":"v","type":"quantitative","title":null,"scale":{"domain":[0,30]},"axis":null}}}],
 "resolve":{"scale":{"y":"independent"}}},
{"title":{"text":"Library","offset":3},"width":144,"height":60,"transform":[{"filter":{"field":"b","equal":"Library"}}],
 "encoding":{"x":{"field":"c","type":"nominal","title":null,"scale":{"domain":["Mask","Stay time","Duct filter","Air cleaner","Occupancy","Ventilation"],"paddingInner":0.24,"paddingOuter":0.12}},"xOffset":{"field":"s","type":"nominal","scale":{"domain":["RPI_abs","RPI_cond","Peak demand change"],"paddingInner":0.1}},"color":{"field":"s","type":"nominal","title":null,"scale":{"domain":["RPI_abs","RPI_cond","Peak demand change"],"range":["#4472C4","#ED7D31","#70AD47"]}}},
 "layer":[{"transform":[{"filter":{"field":"s","oneOf":["RPI_abs","RPI_cond"]}}],"mark":"bar","encoding":{"y":{"field":"v","type":"quantitative","title":null,"scale":{"domain":[0,80]},"axis":{"values":[0,20,40,60,80],"labels":false}}}},
  {"transform":[{"filter":{"field":"s","equal":"Peak demand change"}}],"mark":{"type":"bar","clip":true},"encoding":{"y":{"field":"v","type":"quantitative","title":null,"scale":{"domain":[0,30]},"axis":null}}}],
 "resolve":{"scale":{"y":"independent"}}},
{"title":{"text":"Museum","offset":3},"width":144,"height":60,"transform":[{"filter":{"field":"b","equal":"Museum"}}],
 "encoding":{"x":{"field":"c","type":"nominal","title":null,"scale":{"domain":["Mask","Stay time","Duct filter","Occupancy","Air cleaner","Ventilation"],"paddingInner":0.24,"paddingOuter":0.12}},"xOffset":{"field":"s","type":"nominal","scale":{"domain":["RPI_abs","RPI_cond","Peak demand change"],"paddingInner":0.1}},"color":{"field":"s","type":"nominal","title":null,"scale":{"domain":["RPI_abs","RPI_cond","Peak demand change"],"range":["#4472C4","#ED7D31","#70AD47"]}}},
 "layer":[{"transform":[{"filter":{"field":"s","oneOf":["RPI_abs","RPI_cond"]}}],"mark":"bar","encoding":{"y":{"field":"v","type":"quantitative","title":null,"scale":{"domain":[0,80]},"axis":{"values":[0,20,40,60,80],"labels":false}}}},
  {"transform":[{"filter":{"field":"s","equal":"Peak demand change"}}],"mark":{"type":"bar","clip":true},"encoding":{"y":{"field":"v","type":"quantitative","title":null,"scale":{"domain":[0,30]},"axis":null}}}],
 "resolve":{"scale":{"y":"independent"}}},
{"title":{"text":"Nursing home","offset":-2},"width":144,"height":60,"transform":[{"filter":{"field":"b","equal":"Nursing home"}}],
 "encoding":{"x":{"field":"c","type":"nominal","title":null,"scale":{"domain":["Stay time","Mask","Duct filter","Air cleaner","Occupancy","Ventilation"],"paddingInner":0.24,"paddingOuter":0.12}},"xOffset":{"field":"s","type":"nominal","scale":{"domain":["RPI_abs","RPI_cond","Peak demand change"],"paddingInner":0.1}},"color":{"field":"s","type":"nominal","title":null,"scale":{"domain":["RPI_abs","RPI_cond","Peak demand change"],"range":["#4472C4","#ED7D31","#70AD47"]}}},
 "layer":[{"transform":[{"filter":{"field":"s","oneOf":["RPI_abs","RPI_cond"]}}],"mark":"bar","encoding":{"y":{"field":"v","type":"quantitative","title":null,"scale":{"domain":[0,80]},"axis":{"values":[0,20,40,60,80],"labels":false}}}},
  {"transform":[{"filter":{"field":"s","equal":"Peak demand change"}}],"mark":{"type":"bar","clip":true},"encoding":{"y":{"field":"v","type":"quantitative","scale":{"domain":[0,30]},"axis":{"orient":"right","values":[0,10,20,30],"grid":false,"title":"Peak demand increase %","titleY":106,"titleAlign":"left"}}}}],
 "resolve":{"scale":{"y":"independent"}}},

{"title":{"text":"Office","offset":-2},"width":144,"height":60,"transform":[{"filter":{"field":"b","equal":"Office"}}],
 "encoding":{"x":{"field":"c","type":"nominal","title":null,"scale":{"domain":["Mask","Duct filter","Stay time","Air cleaner","Occupancy","Ventilation"],"paddingInner":0.24,"paddingOuter":0.12}},"xOffset":{"field":"s","type":"nominal","scale":{"domain":["RPI_abs","RPI_cond","Peak demand change"],"paddingInner":0.1}},"color":{"field":"s","type":"nominal","title":null,"scale":{"domain":["RPI_abs","RPI_cond","Peak demand change"],"range":["#4472C4","#ED7D31","#70AD47"]}}},
 "layer":[{"transform":[{"filter":{"field":"s","oneOf":["RPI_abs","RPI_cond"]}}],"mark":"bar","encoding":{"y":{"field":"v","type":"quantitative","scale":{"domain":[0,80]},"axis":{"values":[0,20,40,60,80],"title":"RPI %"}}}},
  {"transform":[{"filter":{"field":"s","equal":"Peak demand change"}}],"mark":{"type":"bar","clip":true},"encoding":{"y":{"field":"v","type":"quantitative","title":null,"scale":{"domain":[0,30]},"axis":null}}}],
 "resolve":{"scale":{"y":"independent"}}},
{"title":{"text":"Parking","offset":3},"width":144,"height":60,"transform":[{"filter":{"field":"b","equal":"Parking"}}],
 "encoding":{"x":{"field":"c","type":"nominal","title":null,"scale":{"domain":["Stay time","Mask","Occupancy","Air cleaner","Duct filter","Ventilation"],"paddingInner":0.24,"paddingOuter":0.12}},"xOffset":{"field":"s","type":"nominal","scale":{"domain":["RPI_abs","RPI_cond","Peak demand change"],"paddingInner":0.1}},"color":{"field":"s","type":"nominal","title":null,"scale":{"domain":["RPI_abs","RPI_cond","Peak demand change"],"range":["#4472C4","#ED7D31","#70AD47"]}}},
 "layer":[{"transform":[{"filter":{"field":"s","oneOf":["RPI_abs","RPI_cond"]}}],"mark":"bar","encoding":{"y":{"field":"v","type":"quantitative","title":null,"scale":{"domain":[0,80]},"axis":{"values":[0,20,40,60,80],"labels":false}}}},
  {"transform":[{"filter":{"field":"s","equal":"Peak demand change"}}],"mark":{"type":"bar","clip":true},"encoding":{"y":{"field":"v","type":"quantitative","title":null,"scale":{"domain":[0,30]},"axis":null}}}],
 "resolve":{"scale":{"y":"independent"}}},
{"title":{"text":"Personal service","offset":3},"width":144,"height":60,"transform":[{"filter":{"field":"b","equal":"Personal service"}}],
 "encoding":{"x":{"field":"c","type":"nominal","title":null,"scale":{"domain":["Stay time","Mask","Occupancy","Duct filter","Air cleaner","Ventilation"],"paddingInner":0.24,"paddingOuter":0.12}},"xOffset":{"field":"s","type":"nominal","scale":{"domain":["RPI_abs","RPI_cond","Peak demand change"],"paddingInner":0.1}},"color":{"field":"s","type":"nominal","title":null,"scale":{"domain":["RPI_abs","RPI_cond","Peak demand change"],"range":["#4472C4","#ED7D31","#70AD47"]}}},
 "layer":[{"transform":[{"filter":{"field":"s","oneOf":["RPI_abs","RPI_cond"]}}],"mark":"bar","encoding":{"y":{"field":"v","type":"quantitative","title":null,"scale":{"domain":[0,80]},"axis":{"values":[0,20,40,60,80],"labels":false}}}},
  {"transform":[{"filter":{"field":"s","equal":"Peak demand change"}}],"mark":{"type":"bar","clip":true},"encoding":{"y":{"field":"v","type":"quantitative","title":null,"scale":{"domain":[0,30]},"axis":null}}}],
 "resolve":{"scale":{"y":"independent"}}},
{"title":{"text":"Public service","offset":-2},"width":144,"height":60,"transform":[{"filter":{"field":"b","equal":"Public service"}}],
 "encoding":{"x":{"field":"c","type":"nominal","title":null,"scale":{"domain":["Stay time","Mask","Occupancy","Air cleaner","Duct filter","Ventilation"],"paddingInner":0.24,"paddingOuter":0.12}},"xOffset":{"field":"s","type":"nominal","scale":{"domain":["RPI_abs","RPI_cond","Peak demand change"],"paddingInner":0.1}},"color":{"field":"s","type":"nominal","title":null,"scale":{"domain":["RPI_abs","RPI_cond","Peak demand change"],"range":["#4472C4","#ED7D31","#70AD47"]}}},
 "layer":[{"transform":[{"filter":{"field":"s","oneOf":["RPI_abs","RPI_cond"]}}],"mark":"bar","encoding":{"y":{"field":"v","type":"quantitative","title":null,"scale":{"domain":[0,80]},"axis":{"values":[0,20,40,60,80],"labels":false}}}},
  {"transform":[{"filter":{"field":"s","equal":"Peak demand change"}}],"mark":{"type":"bar","clip":true},"encoding":{"y":{"field":"v","type":"quantitative","title":null,"scale":{"domain":[0,30]},"axis":{"orient":"right","values":[0,10,20,30],"grid":false}}}}],
 "resolve":{"scale":{"y":"independent"}}},

{"title":{"text":"Restaurant","offset":-2},"width":144,"height":60,"transform":[{"filter":{"field":"b","equal":"Restaurant"}}],
 "encoding":{"x":{"field":"c","type":"nominal","title":null,"scale":{"domain":["Mask","Stay time","Duct filter","Occupancy","Ventilation","Air cleaner"],"paddingInner":0.24,"paddingOuter":0.12}},"xOffset":{"field":"s","type":"nominal","scale":{"domain":["RPI_abs","RPI_cond","Peak demand change"],"paddingInner":0.1}},"color":{"field":"s","type":"nominal","title":null,"scale":{"domain":["RPI_abs","RPI_cond","Peak demand change"],"range":["#4472C4","#ED7D31","#70AD47"]}}},
 "layer":[{"transform":[{"filter":{"field":"s","oneOf":["RPI_abs","RPI_cond"]}}],"mark":"bar","encoding":{"y":{"field":"v","type":"quantitative","title":null,"scale":{"domain":[0,80]},"axis":{"values":[0,20,40,60,80]}}}},
  {"transform":[{"filter":{"field":"s","equal":"Peak demand change"}}],"mark":{"type":"bar","clip":true},"encoding":{"y":{"field":"v","type":"quantitative","title":null,"scale":{"domain":[0,30]},"axis":null}}}],
 "resolve":{"scale":{"y":"independent"}}},
{"title":{"text":"Retail store","offset":3},"width":144,"height":60,"transform":[{"filter":{"field":"b","equal":"Retail store"}}],
 "encoding":{"x":{"field":"c","type":"nominal","title":null,"scale":{"domain":["Stay time","Mask","Occupancy","Duct filter","Air cleaner","Ventilation"],"paddingInner":0.24,"paddingOuter":0.12}},"xOffset":{"field":"s","type":"nominal","scale":{"domain":["RPI_abs","RPI_cond","Peak demand change"],"paddingInner":0.1}},"color":{"field":"s","type":"nominal","title":null,"scale":{"domain":["RPI_abs","RPI_cond","Peak demand change"],"range":["#4472C4","#ED7D31","#70AD47"]}}},
 "layer":[{"transform":[{"filter":{"field":"s","oneOf":["RPI_abs","RPI_cond"]}}],"mark":"bar","encoding":{"y":{"field":"v","type":"quantitative","title":null,"scale":{"domain":[0,80]},"axis":{"values":[0,20,40,60,80],"labels":false}}}},
  {"transform":[{"filter":{"field":"s","equal":"Peak demand change"}}],"mark":{"type":"bar","clip":true},"encoding":{"y":{"field":"v","type":"quantitative","title":null,"scale":{"domain":[0,30]},"axis":null}}}],
 "resolve":{"scale":{"y":"independent"}}},
{"title":{"text":"Retirement house","offset":3},"width":144,"height":60,"transform":[{"filter":{"field":"b","equal":"Retirement house"}}],
 "encoding":{"x":{"field":"c","type":"nominal","title":null,"scale":{"domain":["Stay time","Mask","Air cleaner","Occupancy","Duct filter","Ventilation"],"paddingInner":0.24,"paddingOuter":0.12}},"xOffset":{"field":"s","type":"nominal","scale":{"domain":["RPI_abs","RPI_cond","Peak demand change"],"paddingInner":0.1}},"color":{"field":"s","type":"nominal","title":null,"scale":{"domain":["RPI_abs","RPI_cond","Peak demand change"],"range":["#4472C4","#ED7D31","#70AD47"]}}},
 "layer":[{"transform":[{"filter":{"field":"s","oneOf":["RPI_abs","RPI_cond"]}}],"mark":"bar","encoding":{"y":{"field":"v","type":"quantitative","title":null,"scale":{"domain":[0,80]},"axis":{"values":[0,20,40,60,80],"labels":false}}}},
  {"transform":[{"filter":{"field":"s","equal":"Peak demand change"}}],"mark":{"type":"bar","clip":true},"encoding":{"y":{"field":"v","type":"quantitative","title":null,"scale":{"domain":[0,30]},"axis":null}}}],
 "resolve":{"scale":{"y":"independent"}}},
{"title":{"text":"School","offset":-2},"width":144,"height":60,"transform":[{"filter":{"field":"b","equal":"School"}}],
 "encoding":{"x":{"field":"c","type":"nominal","title":null,"scale":{"domain":["Mask","Duct filter","Air cleaner","Stay time","Occupancy","Ventilation"],"paddingInner":0.24,"paddingOuter":0.12}},"xOffset":{"field":"s","type":"nominal","scale":{"domain":["RPI_abs","RPI_cond","Peak demand change"],"paddingInner":0.1}},"color":{"field":"s","type":"nominal","title":null,"scale":{"domain":["RPI_abs","RPI_cond","Peak demand change"],"range":["#4472C4","#ED7D31","#70AD47"]}}},
 "layer":[{"transform":[{"filter":{"field":"s","oneOf":["RPI_abs","RPI_cond"]}}],"mark":"bar","encoding":{"y":{"field":"v","type":"quantitative","title":null,"scale":{"domain":[0,80]},"axis":{"values":[0,20,40,60,80],"labels":false}}}},
  {"transform":[{"filter":{"field":"s","equal":"Peak demand change"}}],"mark":{"type":"bar","clip":true},"encoding":{"y":{"field":"v","type":"quantitative","title":null,"scale":{"domain":[0,30]},"axis":{"orient":"right","values":[0,10,20,30],"grid":false}}}}],
 "resolve":{"scale":{"y":"independent"}}},

{"title":{"text":"Shared house","offset":-2},"width":144,"height":60,"transform":[{"filter":{"field":"b","equal":"Shared house"}}],
 "encoding":{"x":{"field":"c","type":"nominal","title":null,"scale":{"domain":["Stay time","Mask","Air cleaner","Duct filter","Occupancy","Ventilation"],"paddingInner":0.24,"paddingOuter":0.12}},"xOffset":{"field":"s","type":"nominal","scale":{"domain":["RPI_abs","RPI_cond","Peak demand change"],"paddingInner":0.1}},"color":{"field":"s","type":"nominal","title":null,"scale":{"domain":["RPI_abs","RPI_cond","Peak demand change"],"range":["#4472C4","#ED7D31","#70AD47"]}}},
 "layer":[{"transform":[{"filter":{"field":"s","oneOf":["RPI_abs","RPI_cond"]}}],"mark":"bar","encoding":{"y":{"field":"v","type":"quantitative","title":null,"scale":{"domain":[0,80]},"axis":{"values":[0,20,40,60,80]}}}},
  {"transform":[{"filter":{"field":"s","equal":"Peak demand change"}}],"mark":{"type":"bar","clip":true},"encoding":{"y":{"field":"v","type":"quantitative","title":null,"scale":{"domain":[0,30]},"axis":null}}}],
 "resolve":{"scale":{"y":"independent"}}},
{"title":{"text":"Shopping center","offset":3},"width":144,"height":60,"transform":[{"filter":{"field":"b","equal":"Shopping center"}}],
 "encoding":{"x":{"field":"c","type":"nominal","title":null,"scale":{"domain":["Mask","Stay time","Duct filter","Air cleaner","Occupancy","Ventilation"],"paddingInner":0.24,"paddingOuter":0.12}},"xOffset":{"field":"s","type":"nominal","scale":{"domain":["RPI_abs","RPI_cond","Peak demand change"],"paddingInner":0.1}},"color":{"field":"s","type":"nominal","title":null,"scale":{"domain":["RPI_abs","RPI_cond","Peak demand change"],"range":["#4472C4","#ED7D31","#70AD47"]}}},
 "layer":[{"transform":[{"filter":{"field":"s","oneOf":["RPI_abs","RPI_cond"]}}],"mark":"bar","encoding":{"y":{"field":"v","type":"quantitative","title":null,"scale":{"domain":[0,80]},"axis":{"values":[0,20,40,60,80],"labels":false}}}},
  {"transform":[{"filter":{"field":"s","equal":"Peak demand change"}}],"mark":{"type":"bar","clip":true},"encoding":{"y":{"field":"v","type":"quantitative","title":null,"scale":{"domain":[0,30]},"axis":null}}}],
 "resolve":{"scale":{"y":"independent"}}},
{"title":{"text":"Sport center","offset":3},"width":144,"height":60,"transform":[{"filter":{"field":"b","equal":"Sport center"}}],
 "encoding":{"x":{"field":"c","type":"nominal","title":null,"scale":{"domain":["Stay time","Mask","Duct filter","Occupancy","Air cleaner","Ventilation"],"paddingInner":0.24,"paddingOuter":0.12}},"xOffset":{"field":"s","type":"nominal","scale":{"domain":["RPI_abs","RPI_cond","Peak demand change"],"paddingInner":0.1}},"color":{"field":"s","type":"nominal","title":null,"scale":{"domain":["RPI_abs","RPI_cond","Peak demand change"],"range":["#4472C4","#ED7D31","#70AD47"]}}},
 "layer":[{"transform":[{"filter":{"field":"s","oneOf":["RPI_abs","RPI_cond"]}}],"mark":"bar","encoding":{"y":{"field":"v","type":"quantitative","title":null,"scale":{"domain":[0,80]},"axis":{"values":[0,20,40,60,80],"labels":false}}}},
  {"transform":[{"filter":{"field":"s","equal":"Peak demand change"}}],"mark":{"type":"bar","clip":true},"encoding":{"y":{"field":"v","type":"quantitative","title":null,"scale":{"domain":[0,30]},"axis":null}}}],
 "resolve":{"scale":{"y":"independent"}}},
{"title":{"text":"Student house","offset":-2},"width":144,"height":60,"transform":[{"filter":{"field":"b","equal":"Student house"}}],
 "encoding":{"x":{"field":"c","type":"nominal","title":null,"scale":{"domain":["Stay time","Mask","Air cleaner","Duct filter","Occupancy","Ventilation"],"paddingInner":0.24,"paddingOuter":0.12}},"xOffset":{"field":"s","type":"nominal","scale":{"domain":["RPI_abs","RPI_cond","Peak demand change"],"paddingInner":0.1}},"color":{"field":"s","type":"nominal","title":null,"scale":{"domain":["RPI_abs","RPI_cond","Peak demand change"],"range":["#4472C4","#ED7D31","#70AD47"]}}},
 "layer":[{"transform":[{"filter":{"field":"s","oneOf":["RPI_abs","RPI_cond"]}}],"mark":"bar","encoding":{"y":{"field":"v","type":"quantitative","title":null,"scale":{"domain":[0,80]},"axis":{"values":[0,20,40,60,80],"labels":false}}}},
  {"transform":[{"filter":{"field":"s","equal":"Peak demand change"}}],"mark":{"type":"bar","clip":true},"encoding":{"y":{"field":"v","type":"quantitative","title":null,"scale":{"domain":[0,30]},"axis":{"orient":"right","values":[0,10,20,30],"grid":false}}}}],
 "resolve":{"scale":{"y":"independent"}}},

{"title":{"text":"Studio","offset":-2},"width":144,"height":60,"transform":[{"filter":{"field":"b","equal":"Studio"}}],
 "encoding":{"x":{"field":"c","type":"nominal","title":null,"scale":{"domain":["Duct filter","Air cleaner","Mask","Stay time","Occupancy","Ventilation"],"paddingInner":0.24,"paddingOuter":0.12}},"xOffset":{"field":"s","type":"nominal","scale":{"domain":["RPI_abs","RPI_cond","Peak demand change"],"paddingInner":0.1}},"color":{"field":"s","type":"nominal","title":null,"scale":{"domain":["RPI_abs","RPI_cond","Peak demand change"],"range":["#4472C4","#ED7D31","#70AD47"]}}},
 "layer":[{"transform":[{"filter":{"field":"s","oneOf":["RPI_abs","RPI_cond"]}}],"mark":"bar","encoding":{"y":{"field":"v","type":"quantitative","title":null,"scale":{"domain":[0,80]},"axis":{"values":[0,20,40,60,80]}}}},
  {"transform":[{"filter":{"field":"s","equal":"Peak demand change"}}],"mark":{"type":"bar","clip":true},"encoding":{"y":{"field":"v","type":"quantitative","title":null,"scale":{"domain":[0,30]},"axis":null}}}],
 "resolve":{"scale":{"y":"independent"}}},
{"title":{"text":"Transportation","offset":3},"width":144,"height":60,"transform":[{"filter":{"field":"b","equal":"Transportation"}}],
 "encoding":{"x":{"field":"c","type":"nominal","title":null,"scale":{"domain":["Mask","Stay time","Occupancy","Duct filter","Ventilation","Air cleaner"],"paddingInner":0.24,"paddingOuter":0.12}},"xOffset":{"field":"s","type":"nominal","scale":{"domain":["RPI_abs","RPI_cond","Peak demand change"],"paddingInner":0.1}},"color":{"field":"s","type":"nominal","title":null,"scale":{"domain":["RPI_abs","RPI_cond","Peak demand change"],"range":["#4472C4","#ED7D31","#70AD47"]}}},
 "layer":[{"transform":[{"filter":{"field":"s","oneOf":["RPI_abs","RPI_cond"]}}],"mark":"bar","encoding":{"y":{"field":"v","type":"quantitative","title":null,"scale":{"domain":[0,80]},"axis":{"values":[0,20,40,60,80],"labels":false}}}},
  {"transform":[{"filter":{"field":"s","equal":"Peak demand change"}}],"mark":{"type":"bar","clip":true},"encoding":{"y":{"field":"v","type":"quantitative","title":null,"scale":{"domain":[0,30]},"axis":null}}}],
 "resolve":{"scale":{"y":"independent"}}},
{"title":{"text":"University","offset":3},"width":144,"height":60,"transform":[{"filter":{"field":"b","equal":"University"}}],
 "encoding":{"x":{"field":"c","type":"nominal","title":null,"scale":{"domain":["Mask","Stay time","Duct filter","Occupancy","Air cleaner","Ventilation"],"paddingInner":0.24,"paddingOuter":0.12}},"xOffset":{"field":"s","type":"nominal","scale":{"domain":["RPI_abs","RPI_cond","Peak demand change"],"paddingInner":0.1}},"color":{"field":"s","type":"nominal","title":null,"scale":{"domain":["RPI_abs","RPI_cond","Peak demand change"],"range":["#4472C4","#ED7D31","#70AD47"]}}},
 "layer":[{"transform":[{"filter":{"field":"s","oneOf":["RPI_abs","RPI_cond"]}}],"mark":"bar","encoding":{"y":{"field":"v","type":"quantitative","title":null,"scale":{"domain":[0,80]},"axis":{"values":[0,20,40,60,80],"labels":false}}}},
  {"transform":[{"filter":{"field":"s","equal":"Peak demand change"}}],"mark":{"type":"bar","clip":true},"encoding":{"y":{"field":"v","type":"quantitative","title":null,"scale":{"domain":[0,30]},"axis":null}}}],
 "resolve":{"scale":{"y":"independent"}}},
{"title":{"text":"Warehouse","offset":-2},"width":144,"height":60,"transform":[{"filter":{"field":"b","equal":"Warehouse"}}],
 "encoding":{"x":{"field":"c","type":"nominal","title":null,"scale":{"domain":["Stay time","Mask","Occupancy","Duct filter","Air cleaner","Ventilation"],"paddingInner":0.24,"paddingOuter":0.12}},"xOffset":{"field":"s","type":"nominal","scale":{"domain":["RPI_abs","RPI_cond","Peak demand change"],"paddingInner":0.1}},"color":{"field":"s","type":"nominal","title":null,"scale":{"domain":["RPI_abs","RPI_cond","Peak demand change"],"range":["#4472C4","#ED7D31","#70AD47"]}}},
 "layer":[{"transform":[{"filter":{"field":"s","oneOf":["RPI_abs","RPI_cond"]}}],"mark":"bar","encoding":{"y":{"field":"v","type":"quantitative","title":null,"scale":{"domain":[0,80]},"axis":{"values":[0,20,40,60,80],"labels":false}}}},
  {"transform":[{"filter":{"field":"s","equal":"Peak demand change"}}],"mark":{"type":"bar","clip":true},"encoding":{"y":{"field":"v","type":"quantitative","title":null,"scale":{"domain":[0,30]},"axis":{"orient":"right","values":[0,10,20,30],"grid":false}}}}],
 "resolve":{"scale":{"y":"independent"}}}
],
"config": {
 "view": {"stroke": null},
 "font": "Liberation Serif",
 "title": {"font": "Liberation Serif", "fontSize": 11, "fontWeight": "bold", "color": "#262626", "offset": 4, "anchor": "middle"},
 "axis": {"labelFont": "Liberation Serif", "labelFontSize": 9.5, "labelFontWeight": "bold", "labelColor": "#404040", "titleFont": "Liberation Serif", "titleFontSize": 14, "titleFontWeight": "normal", "titleColor": "#000000", "ticks": false, "gridColor": "#d9d9d9", "domainColor": "#d9d9d9"},
 "axisX": {"labelAngle": -90, "domain": true, "grid": false, "labelPadding": 3},
 "axisY": {"domain": false, "grid": true, "labelPadding": 5, "titlePadding": 10},
 "legend": {"orient": "none", "legendX": 212, "legendY": -36, "direction": "horizontal", "symbolType": "square", "symbolSize": 70, "symbolStrokeWidth": 0, "labelFont": "Lato", "labelFontSize": 12, "labelColor": "#404040", "columnPadding": 8, "labelOffset": 3}
}
}
